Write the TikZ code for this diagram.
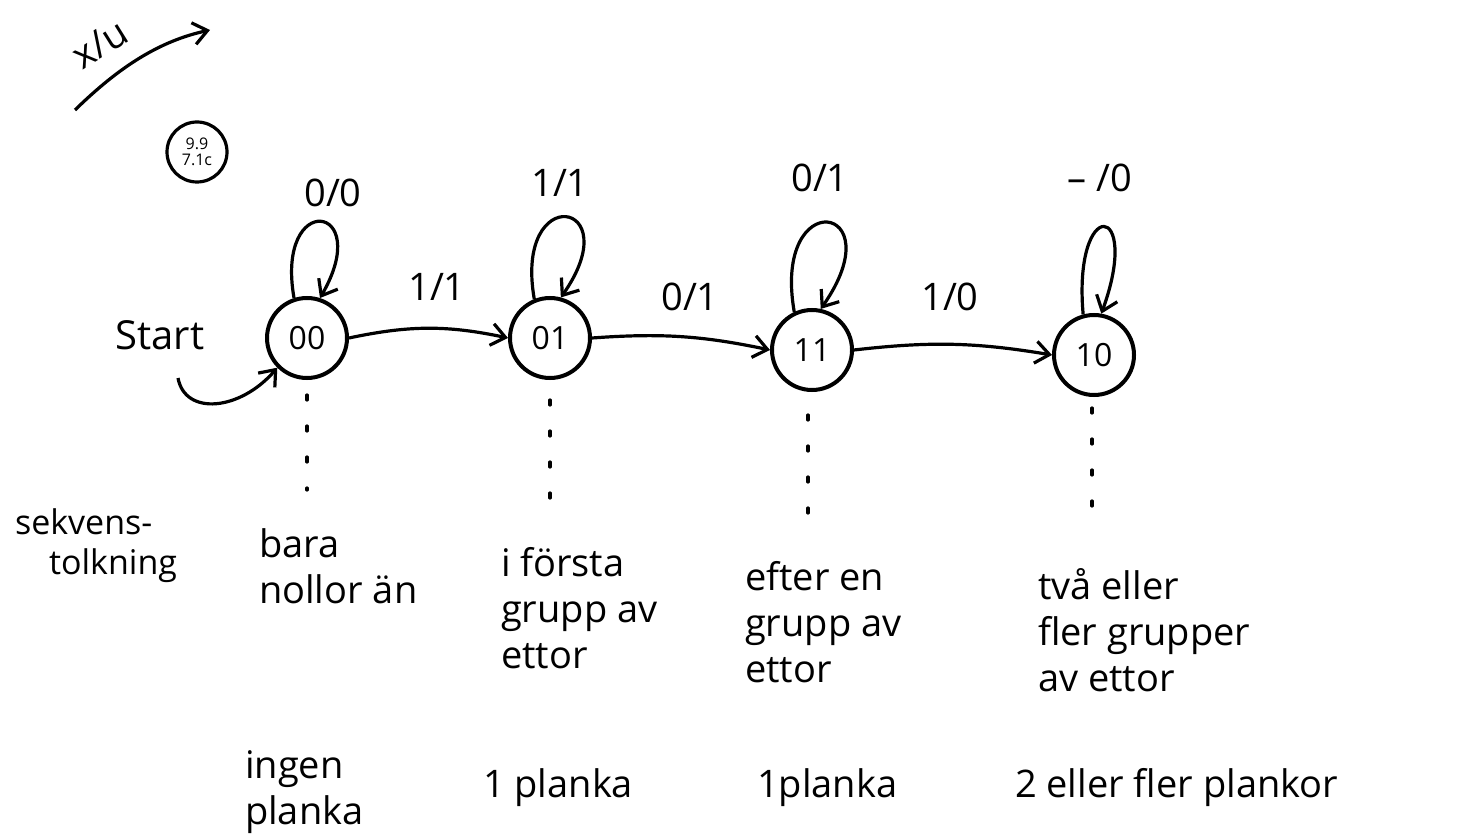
\documentclass[tikz,border=0pt]{standalone}
\usepackage{fontspec}
\setmainfont{Open Sans}
\usetikzlibrary{arrows.meta}
\tikzset{
  state/.style={circle, draw, line width=2pt, minimum size=40pt, inner sep=0pt, font=\fontsize{16}{18}\selectfont},
  conn/.style={line width=1.6pt, -{Straight Barb[length=7pt,width=11pt,line width=1.6pt]}},
  lbl/.style={font=\fontsize{19}{21}\selectfont},
  desc/.style={align=left, font=\fontsize{19}{23}\selectfont, anchor=west},
  dots/.style={line width=1.6pt, dash pattern=on 2.5pt off 13pt, line cap=round},
}
\begin{document}
\begin{tikzpicture}[x=0.5pt,y=0.5pt]
\useasboundingbox (0,0) rectangle (1470,836);

% states
\node[state] (s00) at (307,498) {00};
\node[state] (s01) at (550,498) {01};
\node[state] (s11) at (812,486) {11};
\node[state] (s10) at (1094,481) {10};

% self loops
\draw[conn] (s00.108) .. controls +(100:110) and +(60:110) .. (s00.72);
\draw[conn] (s01.112) .. controls +(100:120) and +(55:120) .. (s01.75);
\draw[conn] (s11.115) .. controls +(100:130) and +(55:130) .. (s11.78);
\draw[conn] (s10.105) .. controls +(95:120) and +(70:120) .. (s10.80);

% loop labels
\node[lbl] (l00) at (333,643) {0/0};
\node[lbl] (l01) at (560,653) {1/1};
\node[lbl] (l11) at (820,658) {0/1};
\node[lbl] (l10) at (1100,658) {– /0};

% transitions
\draw[conn] (s00.east) to[bend left=12] (s01.west);
\draw[conn] (s01.east) to[bend left=8] (s11.west);
\draw[conn] (s11.east) to[bend left=8] (s10.west);

\node[lbl] (e1) at (437,549) {1/1};
\node[lbl] (e2) at (690,539) {0/1};
\node[lbl] (e3) at (950,539) {1/0};

% start
\node[font=\fontsize{20}{24}\selectfont] (start) at (160,501) {Start};
\coordinate (sa) at (178,458);
\draw[conn] (sa) .. controls (185,420) and (240,425) .. (s00.225);

% top-left arrow
\coordinate (xa) at (75,726);
\coordinate (xb) at (210,806);
\draw[conn] (xa) .. controls (120,770) and (160,795) .. (xb);
\node[lbl, rotate=32] (xu) at (100,792) {x/u};

% circled marker
\node[circle, draw, line width=1.6pt, minimum size=30pt, inner sep=0pt, align=center,
      font=\fontsize{8}{8}\selectfont] (mark) at (197,684) {9.9\\7.1c};

% dotted guides
\coordinate (d00a) at (307,441); \coordinate (d00b) at (307,346);
\coordinate (d01a) at (550,436); \coordinate (d01b) at (550,331);
\coordinate (d11a) at (808,421); \coordinate (d11b) at (808,318);
\coordinate (d10a) at (1092,428); \coordinate (d10b) at (1092,321);
\draw[dots] (d00a) -- (d00b);
\draw[dots] (d01a) -- (d01b);
\draw[dots] (d11a) -- (d11b);
\draw[dots] (d10a) -- (d10b);

% interpretations
\node[desc, font=\fontsize{17}{20}\selectfont] (sek) at (8,290) {sekvens-\\\hspace*{1em}tolkning};
\node[desc] (t00) at (252,270) {bara\\nollor än};
\node[desc] (t01) at (494,228) {i första\\grupp av\\ettor};
\node[desc] (t11) at (738,214) {efter en\\grupp av\\ettor};
\node[desc] (t10) at (1031,206) {två eller\\fler grupper\\av ettor};

% plank counts
\node[desc] (p00) at (238,44) {ingen\\planka};
\node[desc] (p01) at (476,48) {1 planka};
\node[desc] (p11) at (750,48) {1planka};
\node[desc] (p10) at (1008,48) {2 eller fler plankor};
\end{tikzpicture}
\end{document}
